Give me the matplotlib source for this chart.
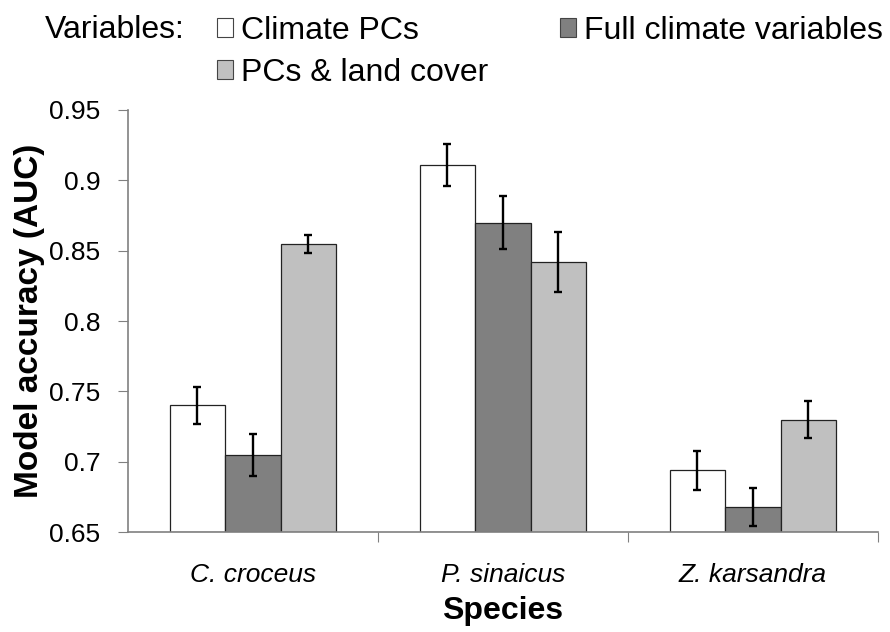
import matplotlib
matplotlib.use("Agg")
import matplotlib.pyplot as plt
import numpy as np
from matplotlib.patches import Patch

plt.rcParams['font.family'] = ['Liberation Sans', 'DejaVu Sans']

species = ["C. croceus", "P. sinaicus", "Z. karsandra"]
series = ["Climate PCs", "Full climate variables", "PCs & land cover"]
auc_pcs = [0.740, 0.911, 0.694]
auc_full = [0.705, 0.870, 0.668]
auc_land = [0.855, 0.842, 0.730]
err_pcs = [0.013, 0.015, 0.014]
err_full = [0.015, 0.019, 0.0135]
err_land = [0.0065, 0.0215, 0.0133]
yticks = [0.65, 0.7, 0.75, 0.8, 0.85, 0.9, 0.95]
ytick_labels = ["0.65", "0.7", "0.75", "0.8", "0.85", "0.9", "0.95"]

colors = ["#ffffff", "#808080", "#c0c0c0"]

fig = plt.figure(figsize=(8.9, 6.32), dpi=100)
ax = fig.add_axes([0.1438, 0.158, 0.8427, 0.668])

x = np.arange(len(species))
w = 0.222
vals = [auc_pcs, auc_full, auc_land]
errs = [err_pcs, err_full, err_land]
handles = []
for i, (v, e, c, lab) in enumerate(zip(vals, errs, colors, series)):
    ax.bar(x + (i - 1) * w, np.array(v) - 0.65, w, bottom=0.65, color=c,
           edgecolor="#222222", linewidth=0.9, zorder=2)
    ax.errorbar(x + (i - 1) * w, v, yerr=e, fmt="none", ecolor="black",
                elinewidth=1.7, capsize=2.6, capthick=1.7, zorder=3)
    handles.append(Patch(facecolor=c, edgecolor="#444444", linewidth=0.8, label=lab))

ax.set_xlim(-0.5, 2.5)
ax.set_ylim(0.65, 0.95)
ax.set_yticks(yticks)
ax.set_yticklabels(ytick_labels, fontsize=19)
ax.set_xticks([0.5, 1.5, 2.5])
ax.set_xticklabels([])
ax.set_xticks(x, minor=True)
ax.set_xticklabels(species, minor=True, fontsize=19, style="italic")
ax.tick_params(axis="x", which="minor", length=0, pad=22)
ax.tick_params(axis="x", which="major", length=7, color="#808080", direction="out")
ax.tick_params(axis="y", length=7, color="#808080", direction="out", pad=13)

for s in ["top", "right"]:
    ax.spines[s].set_visible(False)
for s in ["left", "bottom"]:
    ax.spines[s].set_color("#808080")
    ax.spines[s].set_linewidth(1.2)

ax.set_ylabel("Model accuracy (AUC)", fontsize=24, fontweight="bold")
ax.yaxis.set_label_coords(-0.11, 0.5)
ax.set_xlabel("Species", fontsize=23, fontweight="bold")
ax.xaxis.set_label_coords(0.5, -0.152)

fig.text(0.05, 1 - 38 / 632, "Variables:", fontsize=23, va="baseline")
leg = fig.legend(handles=[handles[0], handles[2], handles[1]], ncol=2,
                 loc="upper left", bbox_to_anchor=(0.2438, 0.975), frameon=False,
                 fontsize=23, handlelength=0.5, handleheight=0.5,
                 handletextpad=0.25, columnspacing=2.25, labelspacing=0.38,
                 borderpad=0, borderaxespad=0)

fig.savefig("out.png", dpi=100)
